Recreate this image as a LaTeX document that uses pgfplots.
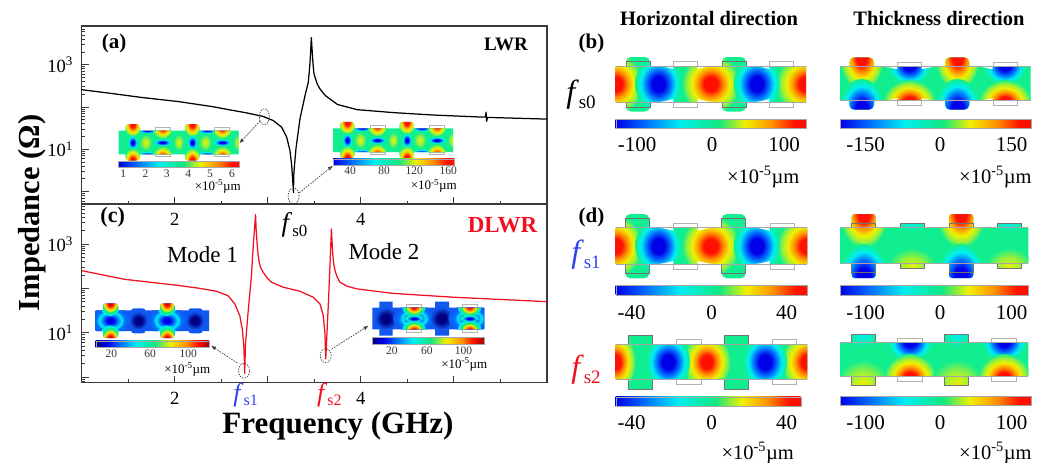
\documentclass[border=0pt]{standalone}
\usepackage{fontspec}
\setmainfont{Liberation Serif}
\usepackage{pgfplots}
\pgfplotsset{compat=1.18}
\usetikzlibrary{arrows.meta}
\newcommand\fs[1]{\fontsize{#1}{#1}\selectfont}
\definecolor{axgray}{HTML}{3A3A3A}
\definecolor{gbg}{HTML}{10EE90}
\definecolor{bbg}{HTML}{1058F0}
\definecolor{jb0}{HTML}{0000E8}
\definecolor{jb1}{HTML}{0070FF}
\definecolor{jc}{HTML}{00F0F0}
\definecolor{jg}{HTML}{10E880}
\definecolor{jl}{HTML}{90F040}
\definecolor{jy}{HTML}{F0F000}
\definecolor{jo}{HTML}{FF9000}
\definecolor{jr}{HTML}{FF1000}
\definecolor{jdr}{HTML}{A00000}
\definecolor{jdb}{HTML}{000080}
\definecolor{cr}{HTML}{F01020}
\definecolor{fblue}{HTML}{3040F0}
\pgfdeclarehorizontalshading{jetbar}{100bp}{color(0bp)=(jb0);color(25bp)=(jb0);color(33bp)=(jb1);color(42bp)=(jc);color(52bp)=(jg);color(59bp)=(jy);color(66bp)=(jo);color(72bp)=(jr);color(75bp)=(jr);color(100bp)=(jr)}
\pgfdeclarehorizontalshading{jetdark}{100bp}{color(0bp)=(jdb);color(25bp)=(jdb);color(30bp)=(jb0);color(36bp)=(jb1);color(43bp)=(jc);color(51bp)=(jg);color(58bp)=(jy);color(65bp)=(jo);color(70bp)=(jr);color(75bp)=(jdr);color(100bp)=(jdr)}
\pgfdeclareradialshading{hot}{\pgfpoint{0bp}{0bp}}{color(0bp)=(jr);color(6bp)=(jr);color(11bp)=(jo);color(16bp)=(jy);color(21bp)=(jl);color(25bp)=(gbg);color(50bp)=(gbg)}
\pgfdeclareradialshading{cold}{\pgfpoint{0bp}{0bp}}{color(0bp)=(jb0);color(7bp)=(jb0);color(13bp)=(jb1);color(19bp)=(jc);color(25bp)=(gbg);color(50bp)=(gbg)}
\pgfdeclareradialshading{warm}{\pgfpoint{0bp}{0bp}}{color(0bp)=(jy);color(14bp)=(jl);color(25bp)=(gbg);color(50bp)=(gbg)}
\pgfdeclareradialshading{cool}{\pgfpoint{0bp}{0bp}}{color(0bp)=(jc);color(25bp)=(gbg);color(50bp)=(gbg)}
\pgfdeclareradialshading{hotc}{\pgfpoint{0bp}{0bp}}{color(0bp)=(jdr);color(6bp)=(jr);color(10bp)=(jo);color(14bp)=(jy);color(18bp)=(jg);color(25bp)=(jc);color(50bp)=(jc)}
\pgfdeclareradialshading{darkb}{\pgfpoint{0bp}{0bp}}{color(0bp)=(jdb);color(10bp)=(jdb);color(25bp)=(bbg);color(50bp)=(bbg)}
\pgfdeclareradialshading{ringb}{\pgfpoint{0bp}{0bp}}{color(0bp)=(jb0);color(4bp)=(jb0);color(9bp)=(jb1);color(14bp)=(jc);color(18bp)=(jb1);color(25bp)=(bbg);color(50bp)=(bbg)}
\newcommand\hb[4]{\shade[shading=hot] (#1,#2) ellipse (#3pt and #4pt);}
\newcommand\cb[4]{\shade[shading=cold] (#1,#2) ellipse (#3pt and #4pt);}
\newcommand\wb[4]{\shade[shading=warm] (#1,#2) ellipse (#3pt and #4pt);}
\newcommand\kb[4]{\shade[shading=cool] (#1,#2) ellipse (#3pt and #4pt);}
\newcommand\op[4]{\draw[gray!60,fill=white,line width=.7pt] (#1,#3) rectangle (#2,#4);}
\newcommand\ol[4]{\draw[black!55,line width=.6pt] (#1,#3) rectangle (#2,#4);}
\newcommand\wdg[4]{\fill[white] (#1,#3) .. controls ({0.5*(#1)+0.5*(#2)},#3) .. (#2,{#3+(#4)}) -- (#2,#3) -- cycle;}
\newcommand\cbar[4]{\fill[jb0] (#1,#3) rectangle ({0.5*(#1)+0.5*(#2)},#4);\fill[jr] ({0.5*(#1)+0.5*(#2)},#3) rectangle (#2,#4);\shade[shading=jetbar] (#1,#3) rectangle (#2,#4);\draw[gray!70,line width=.4pt] (#1,#3) rectangle (#2,#4);}
\newcommand\cbard[4]{\fill[jdb] (#1,#3) rectangle ({0.5*(#1)+0.5*(#2)},#4);\fill[jdr] ({0.5*(#1)+0.5*(#2)},#3) rectangle (#2,#4);\shade[shading=jetdark] (#1,#3) rectangle (#2,#4);\draw[gray!70,line width=.4pt] (#1,#3) rectangle (#2,#4);}
\newcommand\unit[3]{\node[anchor=east,inner sep=0pt,font=\fs{#3}] at (#1,#2) {×10\textsuperscript{-5}µm};}
\newcommand\ff[3]{{\fs{#1}\textit{f}}{\fs{#2}\raisebox{-.28em}{#3}}}
\newcommand\insetA{%
 \op{36.7}{51.7}{-3.4}{0}\op{95.7}{110.7}{-3.4}{0}\op{36.7}{51.7}{23.8}{26}\op{95.7}{110.7}{23.8}{26}
 \begin{scope}
 \clip (0,0) rectangle (120,23.8) [rounded corners=3pt] (6.9,-6.4) rectangle (21.1,30) (66.4,-6.4) rectangle (80.7,30);
 \fill[gbg] (-2,-8) rectangle (122,32);
 \foreach \d in {0,59.6}{
  \cb{29+\d}{-0.5}{11}{3.5}\cb{29+\d}{24.3}{11}{3.5}
  \hb{14+\d}{-6}{9}{12}\hb{14+\d}{29.8}{9}{12}
  \hb{44+\d}{-3}{10}{11}\hb{44+\d}{26.8}{10}{11}
  \cb{14+\d}{11.9}{5}{7}\cb{44+\d}{11.9}{9}{3.5}
  \wb{27+\d}{11.9}{6}{8}\wb{60+\d}{11.9}{5}{8}
  }
 \end{scope}
}
\begin{document}
\begin{tikzpicture}[x=1pt,y=-1pt]
\path[use as bounding box] (0,0) rectangle (1047,463);
\begin{axis}[at={(81.6pt,-204pt)}, anchor=north west, width=465.4pt, height=178.7pt, ymin=.743, ymax=8000,
 scale only axis, ymode=log, xmin=1, xmax=6,
 axis line style={line width=1.1pt,color=axgray},
 every tick/.style={line width=.9pt,color=axgray},
 tick align=inside, tick pos=left,
 major tick length=7pt, minor tick length=3.5pt,
 xtick={2,3,4,5}, xticklabels={2,,4,}, minor xtick={1.5,2.5,3.5,4.5,5.5},
 ytick={0.1,1,10,100,1000,10000}, yticklabels={,,10\textsuperscript{1},,10\textsuperscript{3},},
 tick label style={font=\fs{18.6},inner sep=0pt},
 xticklabel shift=9pt, yticklabel shift=8.4pt]
\addplot[cr,line width=1.25pt,line join=round] table {
1.0 251
1.46 160
2.0 119
2.269 100
2.449 86
2.574 68
2.646 44.5
2.70 24
2.729 11
2.743 4.7
2.75 2
2.752 1.2
2.761 5.6
2.79 31
2.826 211
2.835 450
2.843 847
2.852 1500
2.86 2600
2.869 4613
2.875 2200
2.886 1000
2.895 600
2.908 388
2.925 290
2.951 231
2.99 175
3.041 137
3.166 106
3.346 86
3.489 63
3.561 44.5
3.597 24
3.615 9.3
3.623 2.55
3.634 7.9
3.651 44.5
3.669 355
3.684 2188
3.698 597
3.71 340
3.723 251
3.745 180
3.777 137
3.85 112
3.96 97
4.346 77
5.0 63
6.0 50
};
\end{axis}
\begin{axis}[at={(81.6pt,-26pt)}, anchor=north west, width=465.4pt, height=178pt, ymin=.51, ymax=8280,
 scale only axis, ymode=log, xmin=1, xmax=6,
 axis line style={line width=1.1pt,color=axgray},
 every tick/.style={line width=.9pt,color=axgray},
 tick align=inside, tick pos=left,
 major tick length=7pt, minor tick length=3.5pt,
 xtick={2,3,4,5}, xticklabels={2,,4,}, minor xtick={1.5,2.5,3.5,4.5,5.5},
 ytick={0.1,1,10,100,1000,10000}, yticklabels={,,10\textsuperscript{1},,10\textsuperscript{3},},
 tick label style={font=\fs{18.6},inner sep=0pt},
 xticklabel shift=9pt, yticklabel shift=8.4pt]
\addplot[black,line width=1.25pt,line join=round] table {
1.0 258
1.3 213
1.654 168
2.04 135
2.4 103
2.592 86
2.772 73
2.951 60
3.059 48
3.149 33.5
3.203 19.5
3.238 9.5
3.257 4.2
3.274 1.19
3.276 0.95
3.281 2.92
3.303 10.4
3.346 52.7
3.4 186
3.435 384
3.445 650
3.454 1132
3.461 2100
3.468 4385
3.475 2500
3.483 1361
3.49 850
3.497 604
3.532 352
3.561 268
3.62 186
3.75 115
3.96 87
4.35 74
4.77 65
5.3 58
5.34 58
5.345 76
5.352 46
5.36 57
6 52
};
\end{axis}
% axis labels
\node[rotate=90,font=\fs{30.5}\bfseries,inner sep=0pt] at (32,213) {Impedance (Ω)};
\node[anchor=base,font=\fs{31}\bfseries,inner sep=0pt] at (338,433.5) {Frequency (GHz)};
\node[font=\fs{21}\bfseries] at (114,43) {(a)};
\node[font=\fs{22}\bfseries] at (112.7,217) {(c)};
\node[anchor=east,inner sep=0pt,font=\fs{19}\bfseries] at (528,44.7) {LWR};
\node[anchor=east,inner sep=0pt,font=\fs{23}\bfseries,text=cr] at (537.5,225) {DLWR};
\node[font=\fs{23}] at (202.5,254.3) {Mode 1};
\node[font=\fs{23}] at (384,251.7) {Mode 2};
\node[inner sep=0pt] at (294.6,225) {\ff{27}{17}{s0}};
\node[anchor=base,inner sep=0pt,text=fblue] at (245.7,401) {\ff{26}{16}{s1}};
\node[anchor=base,inner sep=0pt,text=cr] at (329.3,401) {\ff{26}{16}{s2}};
% inset a-left
\begin{scope}[shift={(118.6,130.5)}]\insetA\end{scope}
\cbar{118.6}{238.7}{161.3}{167.3}
\foreach \x/\t in {123.2/1,145.4/2,166.8/3,188.2/4,210/5,232.1/6}{\node[font=\fs{11.5},text=black!80] at (\x,173.5) {\t};}
\unit{241}{186.5}{13}
% inset a-right
\begin{scope}[shift={(333.2,128.3)}]\insetA\end{scope}
\cbar{333.2}{454.3}{158.7}{164.7}
\foreach \x/\t in {350/40,384/80,414.3/120,448.2/160}{\node[font=\fs{11.5},text=black!80] at (\x,170.5) {\t};}
\unit{457}{186}{13}
% inset c-left
\begin{scope}
\clip (95.7,310.3) rectangle (209,331) [rounded corners=3pt] (103,303.3) rectangle (118,338) (160,303.3) rectangle (174.5,338) (131,308.3) rectangle (145.6,333.3) (188.2,308.3) rectangle (202.7,333.3);
\fill[bbg] (90,300) rectangle (215,340);
\foreach \d in {0,56.6}{
 \shade[shading=darkb] ({138.3+\d},320.6) ellipse (9pt and 9pt);
 \shade[shading=ringb] ({110.3+\d},320.5) ellipse (20pt and 15pt);
 \shade[shading=hotc] ({110.3+\d},303) ellipse (11pt and 13pt);
 \shade[shading=hotc] ({110.3+\d},338.5) ellipse (11pt and 13pt);
}
\end{scope}
\cbard{95.7}{209}{340.7}{347.3}
\foreach \x/\t in {111.4/20,150/60,188.2/100}{\node[font=\fs{11.5},text=black!80] at (\x,353.5) {\t};}
\unit{210.5}{369.3}{13}
% inset c-right
\op{406.7}{421.7}{304.3}{307.7}\op{462}{477}{304.3}{307.7}\op{406.7}{421.7}{329.3}{332.7}\op{462}{477}{329.3}{332.7}
\begin{scope}
\clip (372.3,307.7) rectangle (484.3,329.3) (379.3,301.7) rectangle (392.7,335.7) (435,301.7) rectangle (449,335.7);
\fill[bbg] (365,300) rectangle (490,340);
\foreach \d in {0,55.6}{
 \shade[shading=darkb] ({386+\d},318.5) ellipse (11pt and 11pt);
 \shade[shading=ringb] ({414+\d},318.5) ellipse (21pt and 14pt);
 \shade[shading=hotc] ({414+\d},306) ellipse (12pt and 11pt);
 \shade[shading=hotc] ({414+\d},331) ellipse (12pt and 11pt);
 \shade[shading=cold] ({414+\d},318.5) ellipse (9pt and 3.5pt);
}
\end{scope}
\cbard{372.3}{484.3}{337.3}{344.3}
\foreach \x/\t in {391.8/20,426.8/60,463.6/100}{\node[font=\fs{11.5},text=black!80] at (\x,350.5) {\t};}
\unit{487.5}{364.3}{13}
% ovals & arrows
\tikzset{ov/.style={draw=black!75,dash pattern=on 1.4pt off 1.2pt,line width=.7pt},ar/.style={draw=black!75,dash pattern=on 1.6pt off 1.2pt,line width=.7pt,-{Latex[length=5pt,width=4pt]}}}
\draw[ov] (264.3,116.7) ellipse (5pt and 8pt);
\draw[ar] (260,121) -- (239.3,143.3);
\draw[ov] (293.6,196) ellipse (5.5pt and 8pt);
\draw[ar] (299.3,192.7) -- (332.9,165.7);
\draw[ov] (244,370.7) ellipse (5.5pt and 7.5pt);
\draw[ar] (237.3,363) -- (211,345.7);
\draw[ov] (325.7,355.7) ellipse (5.5pt and 7pt);
\draw[ar] (331.7,349) -- (368.6,325.7);
% ---------- right side
\node[font=\fs{20.5}\bfseries,inner sep=0pt] at (709,18) {Horizontal direction};
\node[font=\fs{20.5}\bfseries,inner sep=0pt] at (939,18) {Thickness direction};
\node[font=\fs{21}\bfseries,inner sep=0pt] at (591.5,43) {(b)};
\node[font=\fs{21}\bfseries,inner sep=0pt] at (591.5,217) {(d)};
\node[inner sep=0pt] at (581,95) {\ff{32}{19}{s0}};
\node[inner sep=0pt,text=fblue] at (586,255) {\ff{32}{19}{s1}};
\node[inner sep=0pt,text=cr] at (586,370) {\ff{32}{19}{s2}};
% b-left
\op{673.3}{697.7}{61}{66}\op{769.3}{793.3}{61}{66}\op{673.3}{697.7}{102}{107}\op{769.3}{793.3}{102}{107}
\begin{scope}
\clip (615.7,66) rectangle (806,102) [rounded corners=5pt] (626,57) rectangle (650,111.5) (722,57) rectangle (746,111.5);
\fill[gbg] (600,50) rectangle (820,115);
\hb{615.7}{84}{27}{30}\hb{710.7}{84}{29}{30}\hb{806}{84}{30}{30}
\cb{658.3}{84}{23}{27}\cb{756.7}{84}{23}{27}
\end{scope}
\foreach \x in {650,746}{\wdg{\x}{\x+23.3}{66}{3}\wdg{\x}{\x+23.3}{102}{-3}}
\foreach \x in {722}{\wdg{\x}{\x-24.3}{66}{3}\wdg{\x}{\x-24.3}{102}{-3}}
\ol{626}{650}{61}{66}\ol{722}{746}{61}{66}\ol{626}{650}{102}{107}\ol{722}{746}{102}{107}
\draw[gray!70,line width=.6pt] (615.7,66) -- (806,66) (615.7,102) -- (806,102);
\cbar{615.7}{806}{119}{128.3}
\foreach \x/\t in {637/-100,712/0,784/100}{\node[font=\fs{21}] at (\x,145) {\t};}
\unit{799.5}{177}{20.5}
% b-right
\op{897.3}{921.7}{62.3}{66.7}\op{993}{1017.3}{62.3}{66.7}\op{897.3}{921.7}{100.7}{105.7}\op{993}{1017.3}{100.7}{105.7}
\begin{scope}
\clip (840,66.7) rectangle (1030.7,100.7) [rounded corners=5pt] (849.3,57.3) rectangle (874,109.7) (945,57.3) rectangle (969.3,109.7);
\fill[gbg] (830,50) rectangle (1040,115);
\foreach \d in {0,95.7}{
 \hb{861.7+\d}{58}{22}{32}\cb{861.7+\d}{109}{22}{30}
 \cb{909.3+\d}{65}{21}{20}\hb{909.3+\d}{102}{26}{22}
}
\end{scope}
\foreach \x in {874,969.3}{\wdg{\x}{\x+23.3}{66.7}{2.5}\wdg{\x}{\x+23.3}{100.7}{-2.5}}
\foreach \x in {945}{\wdg{\x}{\x-23.3}{66.7}{2.5}\wdg{\x}{\x-23.3}{100.7}{-2.5}}
\draw[gray!70,line width=.6pt] (840,66.7) -- (1030.7,66.7) (840,100.7) -- (1030.7,100.7);
\cbar{840}{1030.7}{119}{128.3}
\foreach \x/\t in {865.7/-150,940/0,1011.7/150}{\node[font=\fs{21}] at (\x,145) {\t};}
\unit{1031.7}{177}{20.5}
% d1-left
\op{673.3}{697.7}{223.3}{227.7}\op{770}{794}{223.3}{227.7}\op{673.3}{697.7}{264}{269}\op{770}{794}{264}{269}
\begin{scope}
\clip (615.7,227.7) rectangle (807.3,264) [rounded corners=5pt] (625.3,214) rectangle (649.3,278.3) (721.7,214) rectangle (745.7,278.3);
\fill[gbg] (600,205) rectangle (820,285);
\hb{615.7}{246}{27}{30}\hb{710.7}{246}{29}{30}\hb{807}{246}{30}{30}
\cb{658.3}{246}{23}{27}\cb{756.7}{246}{23}{27}
\end{scope}
\foreach \x in {649.3,745.7}{\wdg{\x}{\x+24}{227.7}{3}\wdg{\x}{\x+24}{264}{-3}}
\foreach \x in {721.7}{\wdg{\x}{\x-24}{227.7}{3}\wdg{\x}{\x-24}{264}{-3}}
\ol{625.3}{649.3}{218.3}{227.7}\ol{721.7}{745.7}{218.3}{227.7}\ol{625.3}{649.3}{264}{273.7}\ol{721.7}{745.7}{264}{273.7}
\draw[gray!70,line width=.6pt] (615.7,227.7) -- (807.3,227.7) (615.7,264) -- (807.3,264);
\cbar{615.7}{807.3}{285}{294.7}
\foreach \x/\t in {631.7/-40,711.7/0,786.7/40}{\node[font=\fs{21}] at (\x,313) {\t};}
% d1-right
\begin{scope}
\clip (840,227.7) rectangle (1028.3,263.3) [rounded corners=3pt] (851.7,214) rectangle (875.7,278) (949,214) rectangle (973.3,278) (900,223.3) rectangle (924.3,268.3) (997.3,223.3) rectangle (1021.7,268.3);
\fill[gbg] (830,205) rectangle (1040,285);
\foreach \d in {0,97.3}{
 \hb{863.7+\d}{214}{24}{34}\cb{863.7+\d}{277}{24}{33}
 \wb{912+\d}{268}{24}{20}\kb{912+\d}{222}{18}{10}
}
\end{scope}
\foreach \d in {0,97.3}{\ol{851.7+\d}{875.7+\d}{223}{227.7}\ol{851.7+\d}{875.7+\d}{263.3}{272}\ol{900+\d}{924.3+\d}{223.3}{227.7}\ol{900+\d}{924.3+\d}{263.3}{268.3}}
\draw[gray!70,line width=.6pt] (840,227.7) -- (1028.3,227.7) (840,263.3) -- (1028.3,263.3);
\cbar{840}{1028.3}{285}{294.7}
\foreach \x/\t in {865.7/-100,940/0,1011.7/100}{\node[font=\fs{21}] at (\x,313) {\t};}
% d2-left
\op{676.7}{701}{339.3}{344}\op{772.7}{796.7}{339.3}{344}\op{676.7}{701}{379.3}{384}\op{772.7}{796.7}{379.3}{384}
\begin{scope}
\clip (615.7,344) rectangle (807.3,379.3) (628,335) rectangle (652.3,389) (724.3,335) rectangle (748.7,389);
\fill[gbg] (600,330) rectangle (820,395);
\hb{615.7}{362}{20}{30}\hb{706.7}{362}{24}{28}\hb{807.3}{362}{26}{30}
\cb{668}{362}{22}{26}\cb{765}{362}{22}{26}
\end{scope}
\ol{628}{652.3}{335}{344}\ol{724.3}{748.7}{335}{344}\ol{628}{652.3}{379.3}{389}\ol{724.3}{748.7}{379.3}{389}
\draw[gray!70,line width=.6pt] (615.7,344) -- (807.3,344) (615.7,379.3) -- (807.3,379.3);
\cbar{615.7}{800.7}{396.7}{406}
\foreach \x/\t in {631.7/-40,711.7/0,786.7/40}{\node[font=\fs{21}] at (\x,423) {\t};}
\unit{794}{453}{20.5}
% d2-right
\op{897.7}{922}{338}{342.7}\op{991.7}{1016}{338}{342.7}\op{897.7}{922}{376.7}{381.7}\op{991.7}{1016}{376.7}{381.7}
\begin{scope}
\clip (840,342.7) rectangle (1028.3,376.7) (851,334) rectangle (875,385.3) (944.3,334) rectangle (968.3,385.3);
\fill[gbg] (830,330) rectangle (1040,395);
\foreach \d in {0,94}{
 \kb{863+\d}{335}{16}{12}\wb{863+\d}{384}{26}{24}
 \cb{910+\d}{341}{22}{21}\hb{910+\d}{378}{26}{24}
}
\end{scope}
\foreach \d in {0,93.3}{\ol{851+\d}{875+\d}{334}{342.7}\ol{851+\d}{875+\d}{376.7}{385.3}}
\draw[gray!70,line width=.6pt] (840,342.7) -- (1028.3,342.7) (840,376.7) -- (1028.3,376.7);
\cbar{840}{1030.7}{396}{405.3}
\foreach \x/\t in {865.7/-100,940/0,1011.7/100}{\node[font=\fs{21}] at (\x,423) {\t};}
\unit{1031.7}{453}{20.5}
\end{tikzpicture}
\end{document}
